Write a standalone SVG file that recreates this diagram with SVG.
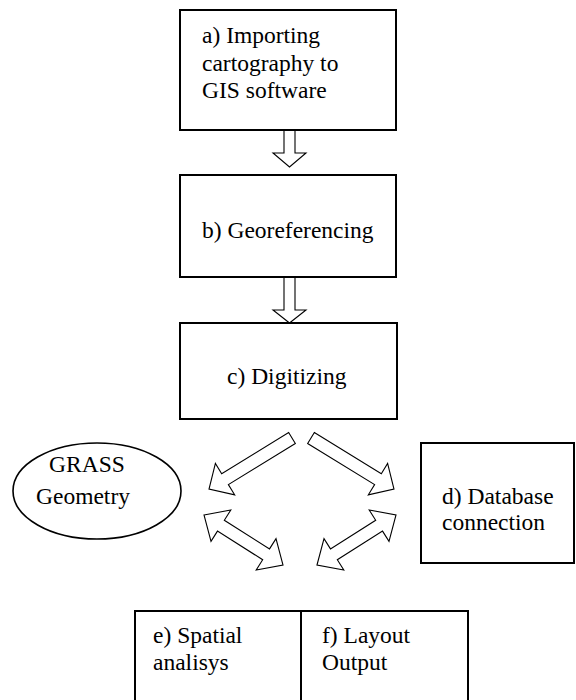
<svg xmlns="http://www.w3.org/2000/svg" width="576" height="700" viewBox="0 0 576 700">
  <style>
    .box { fill: #fff; stroke: #000; stroke-width: 2; }
    .oval { fill: #fff; stroke: #000; stroke-width: 1.6; }
    .lbl { font-family: "Liberation Serif", "Times New Roman", "DejaVu Serif", serif; font-size: 23.5px; fill: #000; }
    .blk { fill: #fff; stroke: #000; stroke-width: 1.1; stroke-linejoin: miter; }
  </style>
  <defs>
    <!-- single block arrow pointing along +x, tail at origin -->
    <polygon id="arrow1" points="0,-6.4 78.6,-6.4 78.6,-18.4 97.4,0 78.6,18.4 78.6,6.4 0,6.4"/>
    <!-- double-headed block arrow along +x, first tip at origin -->
    <polygon id="arrow2" points="0,0 20,-18.5 20,-6.4 73.5,-6.4 73.5,-18.5 93.5,0 73.5,18.5 73.5,6.4 20,6.4 20,18.5"/>
  </defs>

  <rect width="576" height="700" fill="#fff"/>

  <g id="connectors">
    <!-- vertical hollow arrows -->
    <polygon class="blk" points="284,130 295,130 295,153 306,153 289.5,167 273,153 284,153"/>
    <polygon class="blk" points="284,271 295,271 295,310 306,310 289.5,323 273,310 284,310"/>
    <!-- diagonal arrows out of Digitizing -->
    <use href="#arrow1" class="blk" transform="translate(292,438) rotate(148.43)"/>
    <use href="#arrow1" class="blk" transform="translate(311,438) rotate(31.57)"/>
    <!-- two-way arrows towards the analysis boxes -->
    <use href="#arrow2" class="blk" transform="translate(204,515) rotate(32.33)"/>
    <use href="#arrow2" class="blk" transform="translate(317,565) rotate(-32.33)"/>
  </g>

  <g id="node-a">
    <rect class="box" x="180" y="10" width="216" height="120"/>
    <text class="lbl" x="202" y="43">a) Importing</text>
    <text class="lbl" x="202" y="71">cartography to</text>
    <text class="lbl" x="202" y="98">GIS software</text>
  </g>

  <g id="node-b">
    <rect class="box" x="180" y="175" width="216" height="102"/>
    <text class="lbl" x="202" y="238">b) Georeferencing</text>
  </g>

  <g id="node-c">
    <rect class="box" x="180" y="323" width="217" height="96"/>
    <text class="lbl" x="227" y="384">c) Digitizing</text>
  </g>

  <g id="node-grass">
    <ellipse class="oval" cx="97" cy="491" rx="84" ry="48"/>
    <text class="lbl" x="87" y="472" text-anchor="middle">GRASS</text>
    <text class="lbl" x="36" y="504">Geometry</text>
  </g>

  <g id="node-d">
    <rect class="box" x="421" y="443" width="153" height="120"/>
    <text class="lbl" x="442" y="504">d) Database</text>
    <text class="lbl" x="442" y="530">connection</text>
  </g>

  <g id="node-e">
    <rect class="box" x="135" y="611" width="166" height="100"/>
    <text class="lbl" x="153" y="643">e) Spatial</text>
    <text class="lbl" x="153" y="670">analisys</text>
  </g>

  <g id="node-f">
    <rect class="box" x="301" y="611" width="167" height="100"/>
    <text class="lbl" x="322" y="643">f) Layout</text>
    <text class="lbl" x="322" y="670">Output</text>
  </g>
</svg>
